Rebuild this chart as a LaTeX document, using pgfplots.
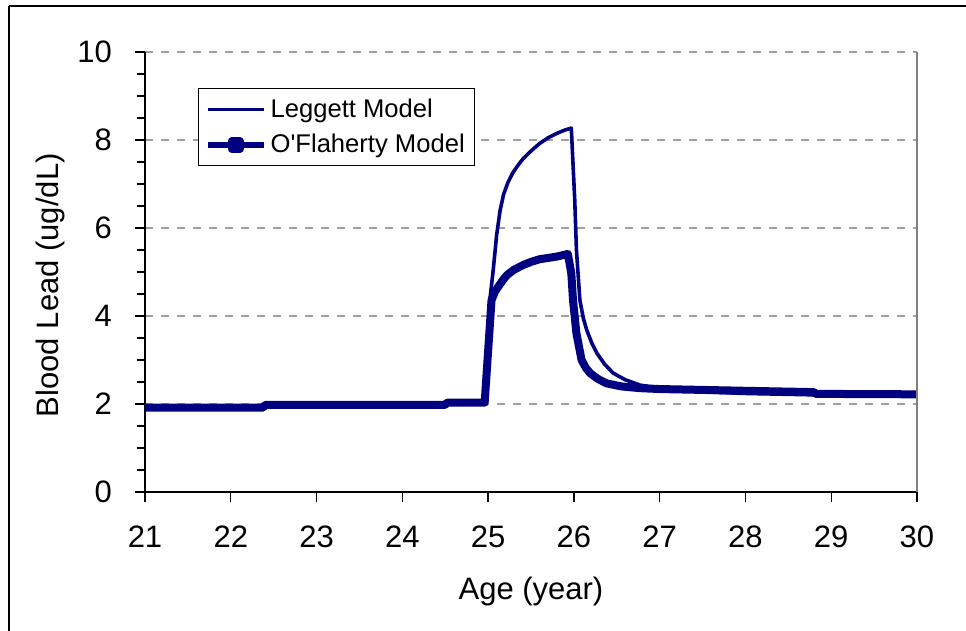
\documentclass[border=0pt]{standalone}
\usepackage{pgfplots}
\pgfplotsset{compat=1.18}
\usepackage{fontspec}
\setmainfont{Liberation Sans}
\definecolor{navy}{RGB}{0,0,128}
\definecolor{gridgray}{RGB}{160,160,160}

\pgfplotstableread{
x y
21.00 1.92
22.38 1.92
22.40 1.98
24.50 1.98
24.52 2.03
24.96 2.03
25.00 3.00
25.02 4.36
25.06 5.05
25.10 5.85
25.14 6.40
25.18 6.76
25.23 7.03
25.29 7.26
25.35 7.43
25.41 7.58
25.50 7.75
25.60 7.92
25.70 8.05
25.80 8.15
25.90 8.23
25.97 8.27
26.01 6.64
26.03 5.50
26.07 4.36
26.11 3.95
26.15 3.68
26.21 3.38
26.27 3.15
26.36 2.90
26.46 2.70
26.60 2.55
26.77 2.43
27.00 2.36
27.30 2.31
27.60 2.27
28.00 2.24
28.50 2.22
29.00 2.20
30.00 2.18
}\leggett

\pgfplotstableread{
x y
21.00 1.92
22.38 1.92
22.40 1.98
24.50 1.98
24.52 2.03
24.96 2.03
25.00 3.20
25.04 4.36
25.08 4.55
25.12 4.67
25.17 4.81
25.22 4.93
25.30 5.05
25.41 5.16
25.50 5.23
25.60 5.29
25.70 5.32
25.80 5.35
25.93 5.41
25.97 4.97
25.99 4.36
26.03 3.60
26.09 3.00
26.14 2.82
26.19 2.70
26.28 2.57
26.38 2.47
26.55 2.40
26.77 2.36
27.00 2.34
27.50 2.32
28.00 2.30
28.80 2.27
28.82 2.23
30.00 2.22
}\oflaherty

\begin{document}
\begin{tikzpicture}
\path[use as bounding box] (0pt,0pt) rectangle (483pt,-315.5pt);
\draw[line width=1pt] (4.5pt,-3pt) -- (500pt,-3pt);
\draw[line width=1pt] (4.5pt,-3pt) -- (4.5pt,-350pt);
\begin{axis}[
  at={(72.5pt,-246pt)}, anchor=south west,
  scale only axis, width=386pt, height=220pt,
  xmin=21, xmax=30, ymin=0, ymax=10,
  xtick={21,22,...,30}, ytick={0,2,...,10},
  minor y tick num=3,
  axis x line*=bottom, axis y line*=left,
  axis line style={black, line width=0.7pt, -},
  tick align=outside,
  major tick length=5pt, minor tick length=4pt,
  tick style={black, line width=0.7pt},
  ymajorgrids, grid style={gridgray, line width=0.7pt, dash pattern=on 4pt off 4pt},
  /pgf/number format/assume math mode=true,
  ticklabel style={font=\fontsize{15.5}{18}\selectfont},
  yticklabel style={xshift=-8pt},
  xticklabel style={yshift=-8.5pt},
  label style={font=\fontsize{15.5}{18}\selectfont},
  xlabel={Age (year)}, ylabel={Blood Lead (ug/dL)},
  x label style={at={(axis description cs:0.5,-0.245)}, anchor=base},
  y label style={at={(axis description cs:-0.123,0.47)}, anchor=center},
  legend style={at={(rel axis cs:0.0687,0.918)}, anchor=north west,
    draw=black, line width=0.6pt, font=\fontsize{12.8}{15}\selectfont,
    inner xsep=3pt, inner ysep=3pt, row sep=3pt,
    legend cell align=left},
  legend image code/.code={\draw[#1] (0pt,0pt) -- (28pt,0pt);},
  clip=false,
]
\addplot[navy, line width=1.8pt, line join=round] table[x=x,y=y] {\leggett};
\addlegendentry{Leggett Model}
\addplot[navy, line width=4pt, line join=round,
  legend image code/.code={\draw[navy, line width=3pt] (0pt,0pt) -- (28pt,0pt);
    \fill[navy] (12pt,-2pt) rectangle (16pt,2pt);}]
  table[x=x,y=y] {\oflaherty};
\addlegendentry{O\textquotesingle Flaherty Model}
\draw[gray, line width=0.8pt] (rel axis cs:1,0) -- (rel axis cs:1,1);
\end{axis}
\end{tikzpicture}
\end{document}
